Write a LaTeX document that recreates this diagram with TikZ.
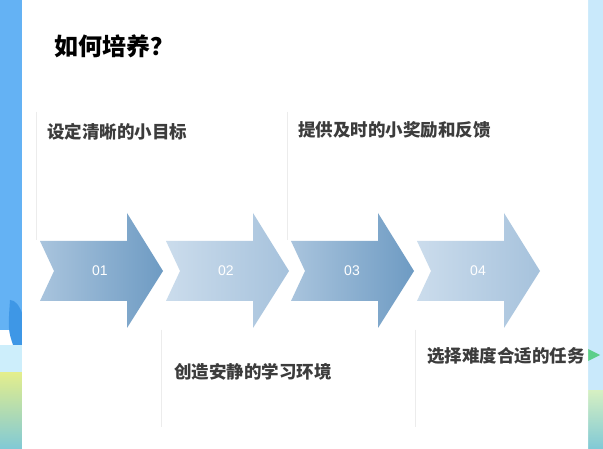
\documentclass[tikz,border=0pt]{standalone}
\usepackage{fontspec}
\newfontfamily\cjk{Noto Sans CJK SC}
\newfontfamily\numfont{Liberation Sans}
\usetikzlibrary{shapes.geometric}
\definecolor{stripL}{HTML}{64B2F4}
\definecolor{stripLd}{HTML}{3E97E6}
\definecolor{cyanL}{HTML}{CDEEFB}
\definecolor{yel}{HTML}{E4EE8C}
\definecolor{teal}{HTML}{80C9D6}
\definecolor{stripR}{HTML}{C9E9FB}
\definecolor{greenR}{HTML}{D6F0C2}
\definecolor{grn}{HTML}{5CCF8A}
\definecolor{txt}{HTML}{3C3C3C}
\definecolor{aDarkL}{HTML}{A9C4DD}
\definecolor{aDarkR}{HTML}{6E9BC3}
\definecolor{aLightL}{HTML}{CBDCEC}
\definecolor{aLightR}{HTML}{A6C2DC}
\definecolor{faint}{HTML}{ECECEC}
\tikzset{
  stepText/.style={anchor=west,inner sep=0pt,font=\cjk\bfseries\fontsize{17.5}{20}\selectfont,text=txt},
  numText/.style={inner sep=0pt,font=\numfont\fontsize{14}{16}\selectfont,text=white},
  faintLine/.style={draw=faint,line width=0.8pt},
}
\newcommand{\stepArrow}[3]{%
  \path[left color=#2,right color=#3]
    (#1,241) -- (#1+87,241) -- (#1+87,213) -- (#1+123,271) -- (#1+87,328)
    -- (#1+87,301) -- (#1,301) -- (#1+14,271) -- cycle;}
\begin{document}
\begin{tikzpicture}[x=1pt,y=-1pt]
\useasboundingbox (0,0) rectangle (603,449);
% background strips
\fill[stripL] (0,0) rectangle (30,330);
\fill[stripLd] (10,300) .. controls (20,300) and (26,320) .. (30,348) -- (14,348) .. controls (8,330) .. (10,300) -- cycle;
\fill[cyanL] (0,345) rectangle (30,372);
\shade[top color=yel,bottom color=teal] (0,372) rectangle (30,449);
\fill[stripR] (580,0) rectangle (603,390);
\shade[top color=greenR,bottom color=teal] (580,390) rectangle (603,449);
\fill[grn] (588,349) -- (600,355) -- (588,361) -- cycle;
% card
\fill[white,rounded corners=12pt] (22,-12) rectangle (588,470);
% title
\node[anchor=west,inner sep=0pt,font=\cjk\bfseries\fontsize{24}{28}\selectfont] (title) at (54,46) {如何培养？};
% faint text-box edges
\draw[faintLine] (36,112) -- (36,240);
\draw[faintLine] (287,112) -- (287,240);
\draw[faintLine] (161,330) -- (161,427);
\draw[faintLine] (415,330) -- (415,427);
% arrows
\stepArrow{40}{aDarkL}{aDarkR}
\stepArrow{166}{aLightL}{aLightR}
\stepArrow{291}{aDarkL}{aDarkR}
\stepArrow{417}{aLightL}{aLightR}
\node[numText] (n1) at (100,271) {01};
\node[numText] (n2) at (226,271) {02};
\node[numText] (n3) at (352,271) {03};
\node[numText] (n4) at (478,271) {04};
% step texts
\node[stepText] (t1) at (47,132) {设定清晰的小目标};
\node[stepText] (t3) at (298,130) {提供及时的小奖励和反馈};
\node[stepText] (t2) at (174,372) {创造安静的学习环境};
\node[stepText] (t4) at (427,356) {选择难度合适的任务};
\end{tikzpicture}
\end{document}
